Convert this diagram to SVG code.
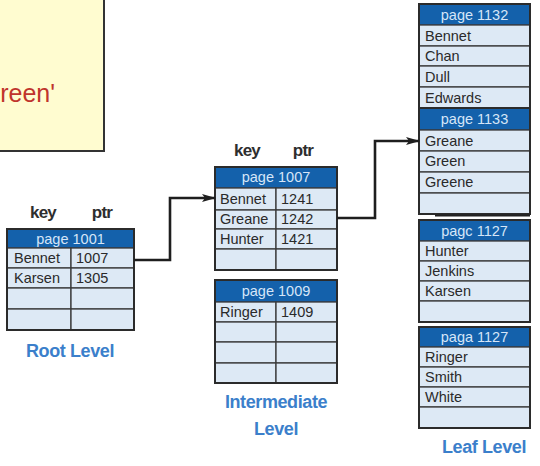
<svg xmlns="http://www.w3.org/2000/svg" width="540" height="466" viewBox="0 0 540 466">
<style>
.hdr{fill:#1461ab;stroke:#2a3a55;stroke-width:1}
.row{fill:#dde9f5;stroke:#3a3a3a;stroke-width:1.3}
.outer{fill:none;stroke:#2b2b2b;stroke-width:2}
.ht{font-family:"Liberation Sans",Arial,sans-serif;font-size:14.5px;fill:#d6e6f8;text-anchor:middle}
.t{font-family:"Liberation Sans",Arial,sans-serif;font-size:14.5px;fill:#2a2a2a}
.kp{font-family:"Liberation Sans",Arial,sans-serif;font-size:17px;font-weight:bold;fill:#2e2e2e;text-anchor:middle;letter-spacing:-0.8px}
.lvl{font-family:"Liberation Sans",Arial,sans-serif;font-size:18px;font-weight:bold;fill:#3b7fcb;text-anchor:middle;letter-spacing:-0.4px}
.con{fill:none;stroke:#1e1e1e;stroke-width:2.6}
</style>
<defs>
<marker id="ah" viewBox="0 0 14 8" refX="13" refY="4" markerWidth="14" markerHeight="8" markerUnits="userSpaceOnUse" orient="auto">
<path d="M0,0 L14,4 L0,8 L3,4 z" fill="#1e1e1e"/>
</marker>
</defs>
<rect width="540" height="466" fill="#ffffff"/>

<g id="note">
<rect x="-5" y="-5" width="109" height="156" fill="#fffcd0" stroke="#333" stroke-width="2"/>
<text x="55" y="102" font-family="'Liberation Sans',Arial,sans-serif" font-size="25" fill="#c0342c" text-anchor="end">reen'</text>
</g>

<g id="root">
<text class="kp" x="43" y="218">key</text>
<text class="kp" x="102" y="218">ptr</text>
<rect class="hdr" x="7" y="229" width="127" height="19"/>
<text class="ht" x="70.5" y="244">page 1001</text>
<rect class="row" x="7" y="248" width="64" height="20"/><rect class="row" x="71" y="248" width="63" height="20"/>
<rect class="row" x="7" y="268" width="64" height="20"/><rect class="row" x="71" y="268" width="63" height="20"/>
<rect class="row" x="7" y="288" width="64" height="21"/><rect class="row" x="71" y="288" width="63" height="21"/>
<rect class="row" x="7" y="309" width="64" height="21"/><rect class="row" x="71" y="309" width="63" height="21"/>
<rect class="outer" x="7" y="229" width="127" height="101"/>
<text class="t" x="14" y="263">Bennet</text><text class="t" x="76" y="263">1007</text>
<text class="t" x="14" y="283">Karsen</text><text class="t" x="76" y="283">1305</text>
<text class="lvl" x="70" y="357">Root Level</text>
</g>

<g id="p1007">
<text class="kp" x="247" y="156">key</text>
<text class="kp" x="303" y="156">ptr</text>
<rect class="hdr" x="215" y="167" width="122" height="21"/>
<text class="ht" x="276" y="182">page 1007</text>
<rect class="row" x="215" y="188" width="61" height="22"/><rect class="row" x="276" y="188" width="61" height="22"/>
<rect class="row" x="215" y="210" width="61" height="19"/><rect class="row" x="276" y="210" width="61" height="19"/>
<rect class="row" x="215" y="229" width="61" height="20"/><rect class="row" x="276" y="229" width="61" height="20"/>
<rect class="row" x="215" y="249" width="61" height="21"/><rect class="row" x="276" y="249" width="61" height="21"/>
<rect class="outer" x="215" y="167" width="122" height="103"/>
<text class="t" x="220" y="204">Bennet</text><text class="t" x="281" y="204">1241</text>
<text class="t" x="220" y="224">Greane</text><text class="t" x="281" y="224">1242</text>
<text class="t" x="220" y="244">Hunter</text><text class="t" x="281" y="244">1421</text>
</g>

<g id="p1009">
<rect class="hdr" x="215" y="280" width="122" height="22"/>
<text class="ht" x="276" y="296">page 1009</text>
<rect class="row" x="215" y="302" width="61" height="20"/><rect class="row" x="276" y="302" width="61" height="20"/>
<rect class="row" x="215" y="322" width="61" height="20"/><rect class="row" x="276" y="322" width="61" height="20"/>
<rect class="row" x="215" y="342" width="61" height="21"/><rect class="row" x="276" y="342" width="61" height="21"/>
<rect class="row" x="215" y="363" width="61" height="20"/><rect class="row" x="276" y="363" width="61" height="20"/>
<rect class="outer" x="215" y="280" width="122" height="103"/>
<text class="t" x="220" y="317">Ringer</text><text class="t" x="281" y="317">1409</text>
<text class="lvl" x="276" y="408">Intermediate</text>
<text class="lvl" x="276" y="435">Level</text>
</g>

<g id="p1132">
<rect class="hdr" x="419" y="4" width="111" height="21"/>
<text class="ht" x="474.5" y="20">page 1132</text>
<rect class="row" x="419" y="25" width="111" height="21"/>
<rect class="row" x="419" y="46" width="111" height="20"/>
<rect class="row" x="419" y="66" width="111" height="21"/>
<rect class="row" x="419" y="87" width="111" height="21"/>
<rect class="outer" x="419" y="4" width="111" height="104"/>
<text class="t" x="425" y="41">Bennet</text>
<text class="t" x="425" y="61">Chan</text>
<text class="t" x="425" y="82">Dull</text>
<text class="t" x="425" y="103">Edwards</text>
</g>

<g id="p1133">
<rect class="hdr" x="419" y="108" width="111" height="22"/>
<text class="ht" x="474.5" y="124">page 1133</text>
<rect class="row" x="419" y="130" width="111" height="21"/>
<rect class="row" x="419" y="151" width="111" height="21"/>
<rect class="row" x="419" y="172" width="111" height="21"/>
<rect class="row" x="419" y="193" width="111" height="21"/>
<rect class="outer" x="419" y="108" width="111" height="106"/>
<line x1="435" y1="215.5" x2="530" y2="215.5" stroke="#222" stroke-width="2"/>
<text class="t" x="425" y="146">Greane</text>
<text class="t" x="425" y="166">Green</text>
<text class="t" x="425" y="187">Greene</text>
</g>

<g id="p1127a">
<rect class="hdr" x="419" y="220" width="111" height="21"/>
<text class="ht" x="474.5" y="236">pagc 1127</text>
<rect class="row" x="419" y="241" width="111" height="20"/>
<rect class="row" x="419" y="261" width="111" height="20"/>
<rect class="row" x="419" y="281" width="111" height="20"/>
<rect class="row" x="419" y="301" width="111" height="21"/>
<rect class="outer" x="419" y="220" width="111" height="102"/>
<text class="t" x="425" y="256">Hunter</text>
<text class="t" x="425" y="276">Jenkins</text>
<text class="t" x="425" y="296">Karsen</text>
</g>

<g id="p1127b">
<rect class="hdr" x="419" y="327" width="111" height="20"/>
<text class="ht" x="474.5" y="342">paga 1127</text>
<rect class="row" x="419" y="347" width="111" height="20"/>
<rect class="row" x="419" y="367" width="111" height="20"/>
<rect class="row" x="419" y="387" width="111" height="20"/>
<rect class="row" x="419" y="407" width="111" height="21"/>
<rect class="outer" x="419" y="327" width="111" height="101"/>
<text class="t" x="425" y="362">Ringer</text>
<text class="t" x="425" y="382">Smith</text>
<text class="t" x="425" y="402">White</text>
<text class="lvl" x="484" y="453">Leaf Level</text>
</g>

<g id="connectors">
<path class="con" d="M134,260 H170 V198 H215" marker-end="url(#ah)"/>
<path class="con" d="M337,218 H375 V141 H419" marker-end="url(#ah)"/>
</g>
</svg>
